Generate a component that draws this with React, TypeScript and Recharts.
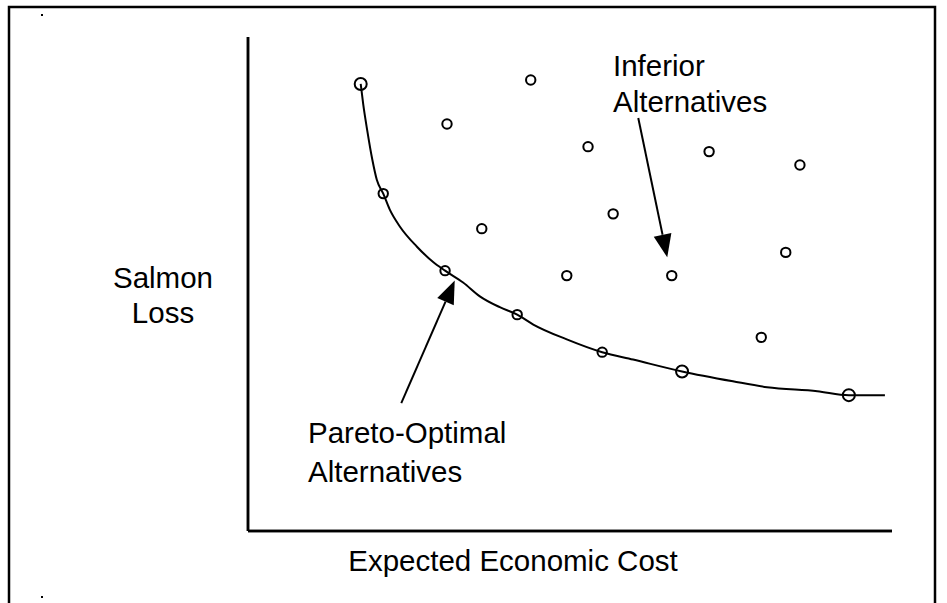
import React from 'react';
import {
  ComposedChart,
  XAxis,
  YAxis,
  Scatter,
  Line,
  ReferenceLine,
  Customized,
} from 'recharts';

// Pareto-optimal alternatives (on the frontier): [expected economic cost, salmon loss]
const paretoX = [17.5, 21.0, 30.6, 41.8, 55.0, 67.4, 93.3];
const paretoY = [90.5, 68.3, 52.7, 43.8, 36.2, 32.3, 27.5];
const paretoBig = [true, false, false, false, false, true, true];

// Inferior alternatives
const inferiorX = [43.9, 30.9, 52.8, 71.6, 85.7, 36.3, 56.7, 83.5, 49.5, 65.8, 79.7];
const inferiorY = [91.3, 82.4, 77.8, 76.8, 74.1, 61.2, 64.2, 56.4, 51.7, 51.7, 39.2];

// Frontier curve
const curveX = [17.5, 17.9, 18.5, 19.3, 20.0, 21.0, 22.0, 23.6, 26.2, 28.7, 30.6, 33.4, 36.0, 39.1, 41.8, 44.3, 49.5, 55.0, 59.8, 67.4, 75.3, 80.6, 88.4, 93.3, 98.9];
const curveY = [90.5, 86.3, 81.2, 75.2, 71.1, 68.3, 65.1, 61.6, 57.6, 54.5, 52.7, 50.3, 47.5, 45.3, 43.8, 41.8, 38.8, 36.2, 34.7, 32.3, 30.3, 29.1, 28.3, 27.5, 27.5];

// Annotation arrows: tail -> head
const arrowInferior = { x1: 60.6, y1: 83.6, x2: 65.1, y2: 55.4 };
const arrowPareto = { x1: 23.8, y1: 25.9, x2: 32.1, y2: 50.7 };

const xLabel = 'Expected Economic Cost';
const yLabelLines = ['Salmon', 'Loss'];
const inferiorLabel = ['Inferior', 'Alternatives'];
const paretoLabel = ['Pareto-Optimal', 'Alternatives'];

const pareto = paretoX.map((x, i) => ({ x, y: paretoY[i], big: paretoBig[i] }));
const inferior = inferiorX.map((x, i) => ({ x, y: inferiorY[i], big: false }));
const curve = curveX.map((x, i) => ({ x, y: curveY[i] }));

const FONT = '"Liberation Sans", Arial, sans-serif';

const Ring = (props: any) => {
  const { cx, cy, payload } = props;
  if (cx == null || cy == null) return null;
  const r = payload && payload.big ? 6 : 4.7;
  return <circle cx={cx} cy={cy} r={r} fill="none" stroke="#000" strokeWidth={2} />;
};

const Arrow = (props: any) => {
  const { x1, y1, x2, y2 } = props;
  if ([x1, y1, x2, y2].some((v) => v == null || isNaN(v))) return null;
  const dx = x2 - x1;
  const dy = y2 - y1;
  const len = Math.sqrt(dx * dx + dy * dy);
  const ux = dx / len;
  const uy = dy / len;
  const headL = 23;
  const headW = 9;
  const bx = x2 - ux * headL;
  const by = y2 - uy * headL;
  const px = -uy * headW;
  const py = ux * headW;
  return (
    <g>
      <line x1={x1} y1={y1} x2={bx} y2={by} stroke="#000" strokeWidth={2} />
      <polygon points={`${x2},${y2} ${bx + px},${by + py} ${bx - px},${by - py}`} fill="#000" />
    </g>
  );
};

const Texts = () => (
  <g fontFamily={FONT} fontSize={29.5} fill="#000">
    <rect x={9} y={7} width={926} height={700} fill="none" stroke="#000" strokeWidth={2.5} />
    <rect x={41} y={14} width={2} height={2} fill="#000" />
    <rect x={41} y={596} width={2} height={2} fill="#000" />
    <text x={163} y={288} textAnchor="middle">{yLabelLines[0]}</text>
    <text x={163} y={323} textAnchor="middle">{yLabelLines[1]}</text>
    <text x={513} y={571} textAnchor="middle">{xLabel}</text>
    <text x={613} y={76}>{inferiorLabel[0]}</text>
    <text x={613} y={112}>{inferiorLabel[1]}</text>
    <text x={308} y={443}>{paretoLabel[0]}</text>
    <text x={308} y={482}>{paretoLabel[1]}</text>
  </g>
);

export default function App() {
  return (
    <div style={{ position: 'absolute', left: 0, top: 0, width: 947, height: 603, background: '#fff' }}>
      <ComposedChart
        width={947}
        height={603}
        margin={{ top: 37, right: 55, bottom: 71, left: 247 }}
      >
        <Customized component={<Texts />} />
        <XAxis
          type="number"
          dataKey="x"
          domain={[0, 100]}
          ticks={[]}
          tick={false}
          tickLine={false}
          height={1}
          axisLine={{ stroke: '#000', strokeWidth: 2.5 }}
          allowDataOverflow
        />
        <YAxis
          type="number"
          dataKey="y"
          domain={[0, 100]}
          ticks={[]}
          tick={false}
          tickLine={false}
          width={1}
          axisLine={{ stroke: '#000', strokeWidth: 2.5 }}
          allowDataOverflow
        />
        <ReferenceLine x={0} stroke="#000" strokeWidth={2.5} />
        <ReferenceLine y={0} stroke="#000" strokeWidth={2.5} />
        <Line
          data={curve}
          dataKey="y"
          type="monotone"
          stroke="#000"
          strokeWidth={2}
          dot={false}
          activeDot={false}
          isAnimationActive={false}
        />
        <Scatter data={pareto} dataKey="y" shape={<Ring />} isAnimationActive={false} />
        <Scatter data={inferior} dataKey="y" shape={<Ring />} isAnimationActive={false} />
        <ReferenceLine segment={[{ x: arrowInferior.x1, y: arrowInferior.y1 }, { x: arrowInferior.x2, y: arrowInferior.y2 }]} shape={<Arrow />} />
        <ReferenceLine segment={[{ x: arrowPareto.x1, y: arrowPareto.y1 }, { x: arrowPareto.x2, y: arrowPareto.y2 }]} shape={<Arrow />} />
      </ComposedChart>
    </div>
  );
}
